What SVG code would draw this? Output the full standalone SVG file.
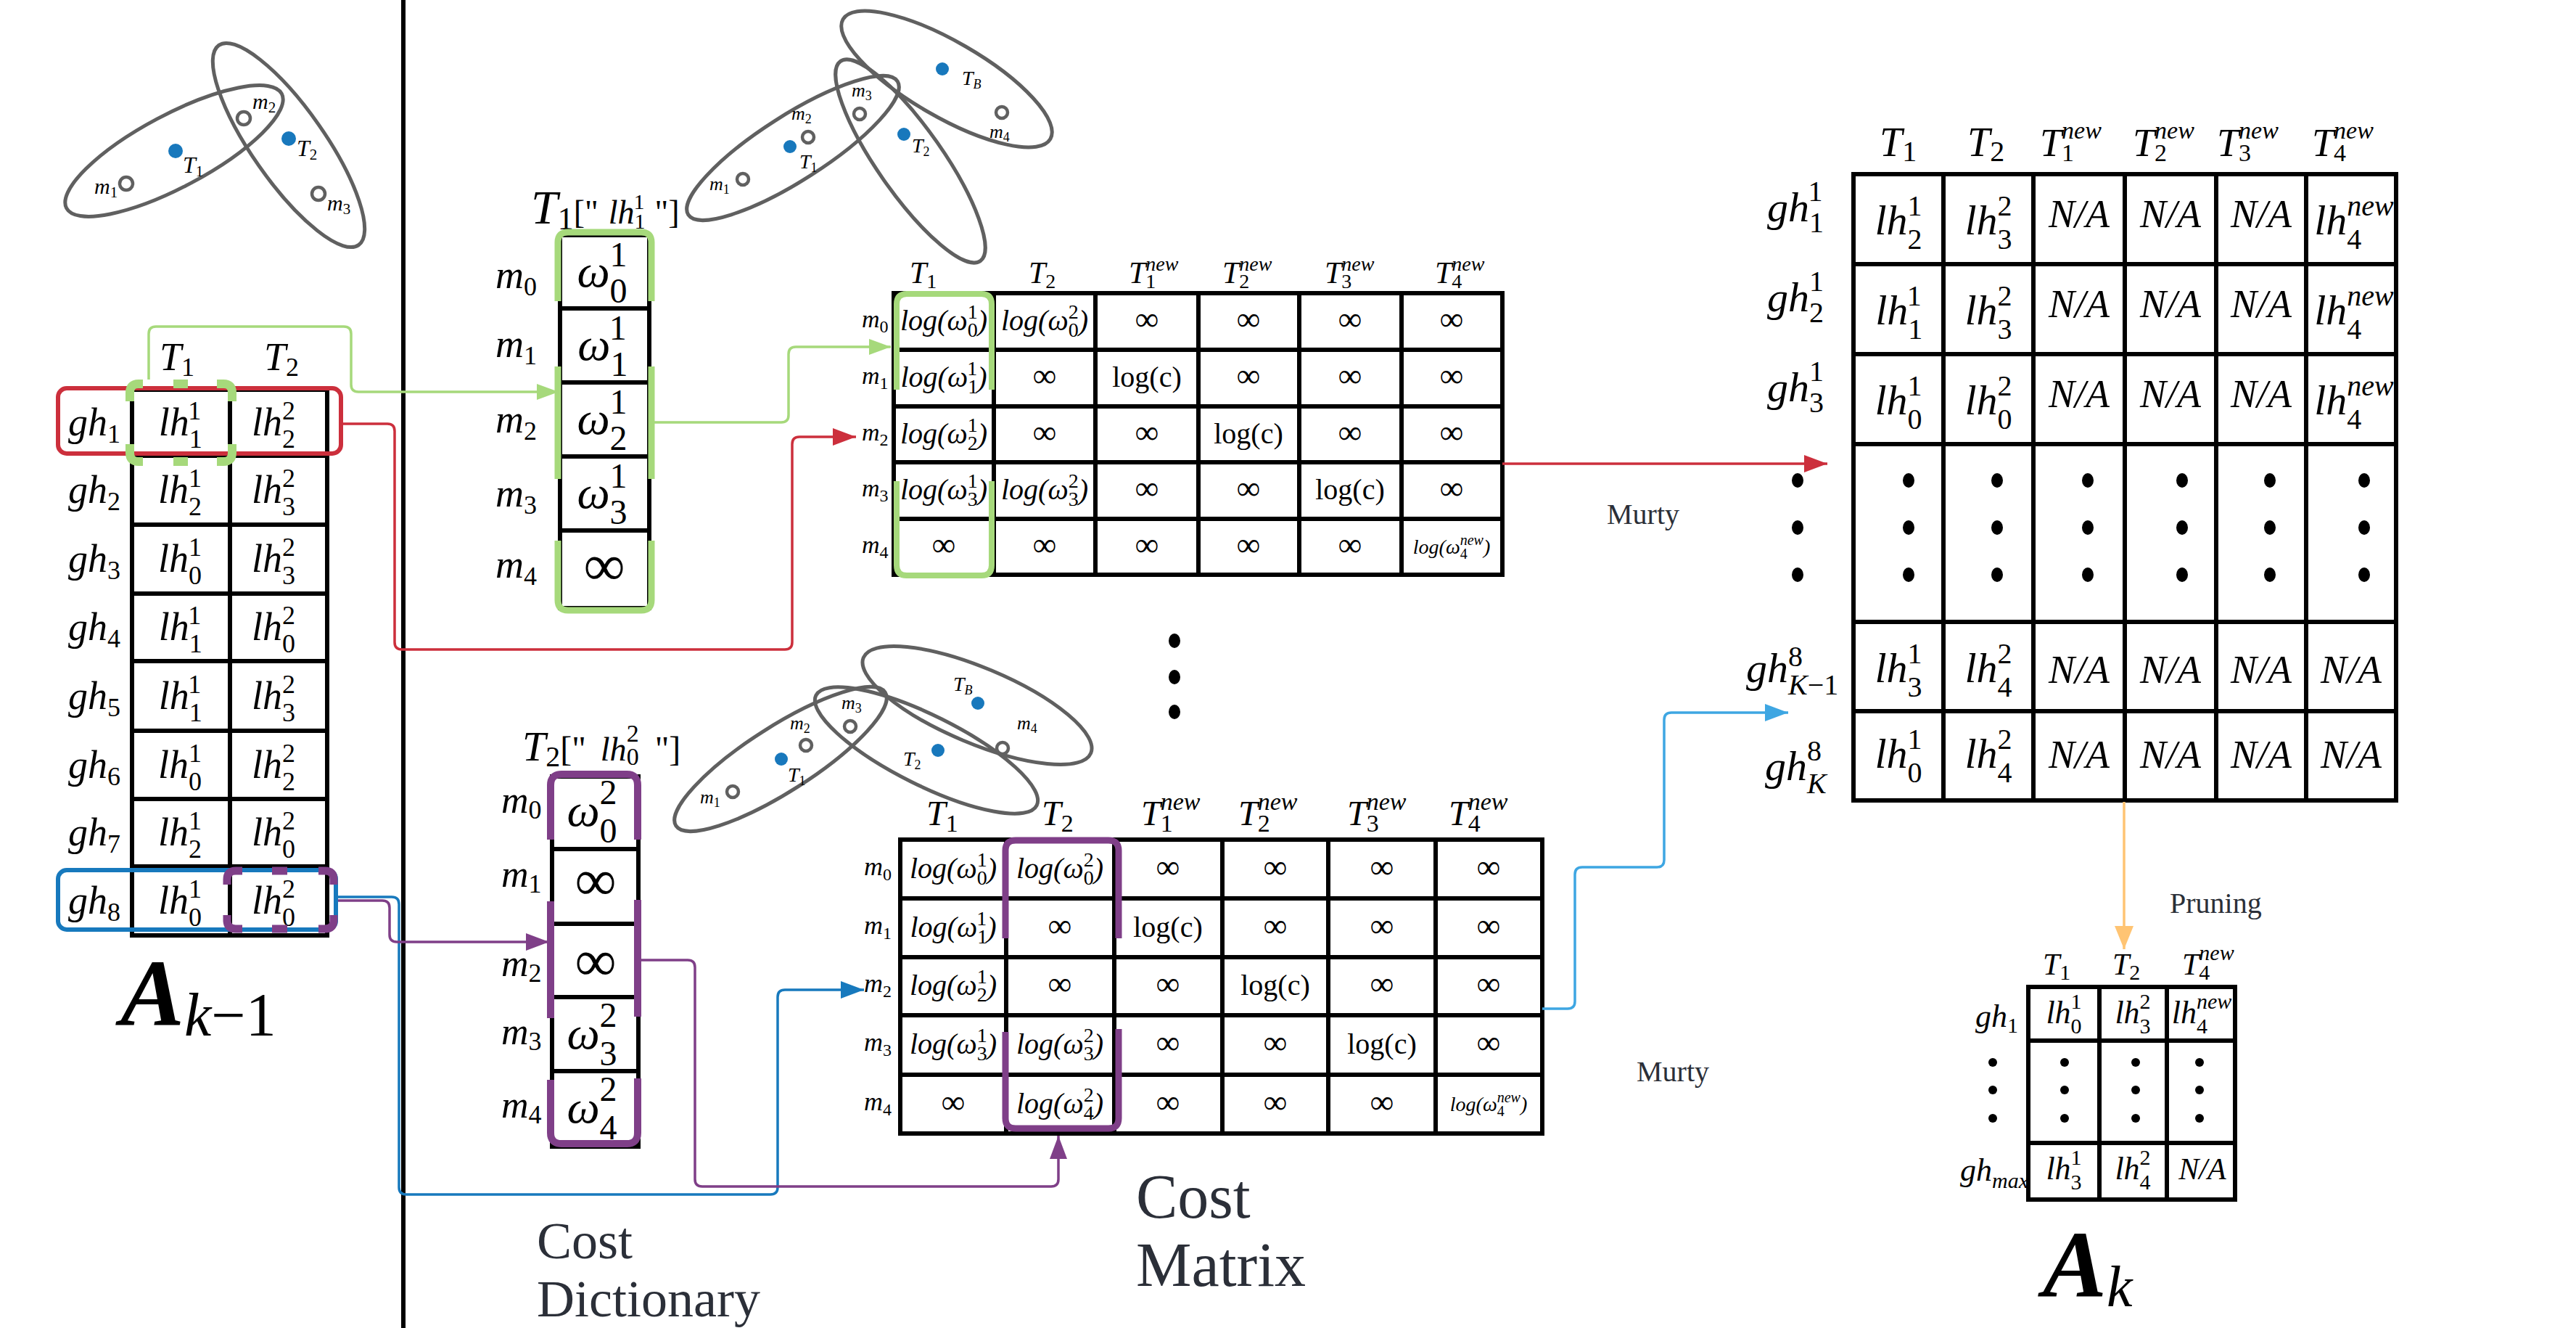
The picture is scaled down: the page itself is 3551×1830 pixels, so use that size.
<svg xmlns="http://www.w3.org/2000/svg" width="3551" height="1830" viewBox="0 0 3551 1830">
<defs>
<style>
.t{font-family:"Liberation Serif","Times New Roman",serif;fill:#000}
.i{font-style:italic}
.c{text-anchor:middle}
.wp{white-space:pre}
.s18{font-size:18px;font-style:normal}
.s20{font-size:20px;font-style:normal}
.s21{font-size:21px;font-style:normal}
.s24{font-size:24px;font-style:normal}
.s28{font-size:28px;font-style:normal}
.s30{font-size:30px;font-style:normal}
.s34{font-size:34px;font-style:normal}
.s36{font-size:36px;font-style:normal}
.s40{font-size:40px;font-style:normal}
.s44{font-size:44px;font-style:normal}
.s48{font-size:48px;font-style:normal}
.it{font-style:italic}
.grid{fill:none;stroke:#000;stroke-width:6;stroke-linecap:square}
.ell{fill:none;stroke:#606060;stroke-width:5}
.ring{fill:#fff;stroke:#606060;stroke-width:4.5}
.dot{fill:#1878bc}
.bd{fill:#000}
.lbl{font-family:"Liberation Serif","Times New Roman",serif;fill:#2b2f38}
.cn{fill:none;stroke-width:3.5;stroke-linejoin:round}
.hg{fill:none;stroke:#a6d97b}
.hp{fill:none;stroke:#7f3f88}
</style>
<marker id="mG" markerUnits="userSpaceOnUse" markerWidth="30" markerHeight="22" refX="30" refY="11" orient="auto"><path d="M0,0 L30,11 L0,22 z" fill="#a6d97b"/></marker>
<marker id="mR" markerUnits="userSpaceOnUse" markerWidth="32" markerHeight="24" refX="32" refY="12" orient="auto"><path d="M0,0 L32,12 L0,24 z" fill="#cc2f3c"/></marker>
<marker id="mP" markerUnits="userSpaceOnUse" markerWidth="32" markerHeight="24" refX="32" refY="12" orient="auto"><path d="M0,0 L32,12 L0,24 z" fill="#7f3f88"/></marker>
<marker id="mB" markerUnits="userSpaceOnUse" markerWidth="32" markerHeight="24" refX="32" refY="12" orient="auto"><path d="M0,0 L32,12 L0,24 z" fill="#1779bd"/></marker>
<marker id="mL" markerUnits="userSpaceOnUse" markerWidth="32" markerHeight="24" refX="32" refY="12" orient="auto"><path d="M0,0 L32,12 L0,24 z" fill="#3ea6e2"/></marker>
<marker id="mO" markerUnits="userSpaceOnUse" markerWidth="32" markerHeight="26" refX="32" refY="13" orient="auto"><path d="M0,0 L32,13 L0,26 z" fill="#ffc473"/></marker>
</defs>
<rect width="3551" height="1830" fill="#fff"/>
<line x1="556" y1="0" x2="556" y2="1830" stroke="#000" stroke-width="6"/>

<g id="scene-1">
<ellipse class="ell" cx="240" cy="208" rx="168" ry="50" transform="rotate(-28 240 208)"/>
<ellipse class="ell" cx="398" cy="200" rx="168" ry="50" transform="rotate(55 398 200)"/>
<circle class="ring" cx="174" cy="253" r="9"/>
<circle class="ring" cx="336" cy="163" r="9"/>
<circle class="ring" cx="439" cy="267" r="9"/>
<circle class="dot" cx="242" cy="208" r="10"/>
<circle class="dot" cx="398" cy="191" r="10"/>
<text class="t i" x="130" y="267" font-size="30">m<tspan class="s21" dy="5">1</tspan></text>
<text class="t i" x="348" y="150" font-size="30">m<tspan class="s21" dy="5">2</tspan></text>
<text class="t i" x="451" y="290" font-size="30">m<tspan class="s21" dy="5">3</tspan></text>
<text class="t i" x="252" y="238" font-size="32">T<tspan class="s21" dy="5">1</tspan></text>
<text class="t i" x="409" y="215" font-size="32">T<tspan class="s21" dy="5">2</tspan></text>
</g>

<g id="scene-2">
<ellipse class="ell" cx="1093" cy="204" rx="171" ry="45" transform="rotate(-32.5 1093 204)"/>
<ellipse class="ell" cx="1255" cy="222" rx="168" ry="45" transform="rotate(55 1255 222)"/>
<ellipse class="ell" cx="1305" cy="109" rx="165" ry="52" transform="rotate(30 1305 109)"/>
<circle class="ring" cx="1024" cy="247" r="8"/>
<circle class="ring" cx="1114" cy="189" r="8"/>
<circle class="ring" cx="1185" cy="157" r="8"/>
<circle class="ring" cx="1381" cy="155" r="8"/>
<circle class="dot" cx="1089" cy="202" r="9"/>
<circle class="dot" cx="1246" cy="185" r="9"/>
<circle class="dot" cx="1299" cy="95" r="9"/>
<text class="t i" x="978" y="262" font-size="26">m<tspan class="s18" dy="5">1</tspan></text>
<text class="t i" x="1091" y="165" font-size="26">m<tspan class="s18" dy="5">2</tspan></text>
<text class="t i" x="1174" y="133" font-size="26">m<tspan class="s18" dy="5">3</tspan></text>
<text class="t i" x="1364" y="190" font-size="26">m<tspan class="s18" dy="5">4</tspan></text>
<text class="t i" x="1102" y="232" font-size="28">T<tspan class="s18" dy="5">1</tspan></text>
<text class="t i" x="1257" y="210" font-size="28">T<tspan class="s18" dy="5">2</tspan></text>
<text class="t i" x="1326" y="117" font-size="28">T<tspan class="s18 it" dy="5">B</tspan></text>
</g>

<g id="scene-3">
<ellipse class="ell" cx="1076" cy="1046" rx="171" ry="45" transform="rotate(-32.5 1076 1046)"/>
<ellipse class="ell" cx="1277" cy="1034" rx="170" ry="48" transform="rotate(26.5 1277 1034)"/>
<ellipse class="ell" cx="1347" cy="972" rx="170" ry="52" transform="rotate(22.8 1347 972)"/>
<circle class="ring" cx="1010" cy="1091" r="8"/>
<circle class="ring" cx="1111" cy="1027" r="8"/>
<circle class="ring" cx="1172" cy="1001" r="8"/>
<circle class="ring" cx="1382" cy="1031" r="8"/>
<circle class="dot" cx="1077" cy="1046" r="9"/>
<circle class="dot" cx="1293" cy="1034" r="9"/>
<circle class="dot" cx="1348" cy="969" r="9"/>
<text class="t i" x="965" y="1107" font-size="26">m<tspan class="s18" dy="5">1</tspan></text>
<text class="t i" x="1089" y="1005" font-size="26">m<tspan class="s18" dy="5">2</tspan></text>
<text class="t i" x="1160" y="977" font-size="26">m<tspan class="s18" dy="5">3</tspan></text>
<text class="t i" x="1402" y="1005" font-size="26">m<tspan class="s18" dy="5">4</tspan></text>
<text class="t i" x="1086" y="1077" font-size="28">T<tspan class="s18" dy="5">1</tspan></text>
<text class="t i" x="1245" y="1055" font-size="28">T<tspan class="s18" dy="5">2</tspan></text>
<text class="t i" x="1314" y="952" font-size="28">T<tspan class="s18 it" dy="5">B</tspan></text>
</g>

<g id="node-A-k-1">
<path class="grid" d="M182,537 V1289 M317,537 V1289 M451,537 V1289 M182,537 H451 M182,628 H451 M182,723 H451 M182,818 H451 M182,911 H451 M182,1007 H451 M182,1101 H451 M182,1194 H451 M182,1289 H451"/>
<text class="t i" x="220" y="510" font-size="54">T<tspan class="s36" dy="8">1</tspan></text>
<text class="t i" x="364" y="510" font-size="54">T<tspan class="s36" dy="8">2</tspan></text>
<text class="t i c" x="130" y="600" font-size="54">gh<tspan class="s36" dy="10">1</tspan></text>
<text class="t i c" x="130" y="693" font-size="54">gh<tspan class="s36" dy="10">2</tspan></text>
<text class="t i c" x="130" y="788" font-size="54">gh<tspan class="s36" dy="10">3</tspan></text>
<text class="t i c" x="130" y="882" font-size="54">gh<tspan class="s36" dy="10">4</tspan></text>
<text class="t i c" x="130" y="977" font-size="54">gh<tspan class="s36" dy="10">5</tspan></text>
<text class="t i c" x="130" y="1072" font-size="54">gh<tspan class="s36" dy="10">6</tspan></text>
<text class="t i c" x="130" y="1165" font-size="54">gh<tspan class="s36" dy="10">7</tspan></text>
<text class="t i c" x="130" y="1259" font-size="54">gh<tspan class="s36" dy="10">8</tspan></text>
<text class="t i c" x="248" y="600" font-size="54">lh<tspan class="s36" dy="17">1</tspan><tspan class="s36" dx="-18" dy="-39">1</tspan></text>
<text class="t i c" x="377" y="600" font-size="54">lh<tspan class="s36" dy="17">2</tspan><tspan class="s36" dx="-18" dy="-39">2</tspan></text>
<text class="t i c" x="248" y="693" font-size="54">lh<tspan class="s36" dy="17">2</tspan><tspan class="s36" dx="-18" dy="-39">1</tspan></text>
<text class="t i c" x="377" y="693" font-size="54">lh<tspan class="s36" dy="17">3</tspan><tspan class="s36" dx="-18" dy="-39">2</tspan></text>
<text class="t i c" x="248" y="788" font-size="54">lh<tspan class="s36" dy="17">0</tspan><tspan class="s36" dx="-18" dy="-39">1</tspan></text>
<text class="t i c" x="377" y="788" font-size="54">lh<tspan class="s36" dy="17">3</tspan><tspan class="s36" dx="-18" dy="-39">2</tspan></text>
<text class="t i c" x="248" y="882" font-size="54">lh<tspan class="s36" dy="17">1</tspan><tspan class="s36" dx="-18" dy="-39">1</tspan></text>
<text class="t i c" x="377" y="882" font-size="54">lh<tspan class="s36" dy="17">0</tspan><tspan class="s36" dx="-18" dy="-39">2</tspan></text>
<text class="t i c" x="248" y="977" font-size="54">lh<tspan class="s36" dy="17">1</tspan><tspan class="s36" dx="-18" dy="-39">1</tspan></text>
<text class="t i c" x="377" y="977" font-size="54">lh<tspan class="s36" dy="17">3</tspan><tspan class="s36" dx="-18" dy="-39">2</tspan></text>
<text class="t i c" x="248" y="1072" font-size="54">lh<tspan class="s36" dy="17">0</tspan><tspan class="s36" dx="-18" dy="-39">1</tspan></text>
<text class="t i c" x="377" y="1072" font-size="54">lh<tspan class="s36" dy="17">2</tspan><tspan class="s36" dx="-18" dy="-39">2</tspan></text>
<text class="t i c" x="248" y="1165" font-size="54">lh<tspan class="s36" dy="17">2</tspan><tspan class="s36" dx="-18" dy="-39">1</tspan></text>
<text class="t i c" x="377" y="1165" font-size="54">lh<tspan class="s36" dy="17">0</tspan><tspan class="s36" dx="-18" dy="-39">2</tspan></text>
<text class="t i c" x="248" y="1259" font-size="54">lh<tspan class="s36" dy="17">0</tspan><tspan class="s36" dx="-18" dy="-39">1</tspan></text>
<text class="t i c" x="377" y="1259" font-size="54">lh<tspan class="s36" dy="17">0</tspan><tspan class="s36" dx="-18" dy="-39">2</tspan></text>
<rect x="80" y="535" width="390" height="90" rx="12" fill="none" stroke="#cc2f3c" stroke-width="6"/>
<rect x="80" y="1199" width="383" height="82" rx="12" fill="none" stroke="#1779bd" stroke-width="6"/>
<path class="hg" stroke-width="12" d="M179,553 V541 Q179,529 191,529 H197 M299,529 H308 Q320,529 320,541 V553 M179,612 V624 Q179,636 191,636 H197 M299,636 H308 Q320,636 320,624 V612 M239,529 H259 M239,636 H259"/>
<path class="hp" stroke-width="11" d="M313,1219 V1212 Q313,1200 325,1200 H334 M439,1200 H448 Q460,1200 460,1212 V1219 M313,1261 V1268 Q313,1280 325,1280 H334 M439,1280 H448 Q460,1280 460,1268 V1261 M375,1200 H396 M375,1280 H396"/>
<text class="t" x="166" y="1413" font-size="132" font-style="italic" font-weight="bold">A<tspan class="it" font-size="84" font-weight="normal" dy="14">k</tspan><tspan font-size="84" font-weight="normal" font-style="normal">−1</tspan></text>
</g>

<g id="node-cost-dict-1">
<text class="t wp" x="732" y="308"><tspan class="it" font-size="66">T</tspan><tspan class="s44" dy="8">1</tspan><tspan font-size="46" dy="-8">["</tspan><tspan class="it" font-size="46" dx="14">lh</tspan><tspan class="s30" dy="7">1</tspan><tspan class="s30" dx="-15" dy="-27">1</tspan><tspan font-size="46" dx="14" dy="20">"]</tspan></text>
<path class="grid" d="M772,324 H895 V838 H772 Z M772,425 H895 M772,527 H895 M772,629 H895 M772,731 H895"/>
<text class="t i" x="683" y="397" font-size="54">m<tspan class="s36" dy="10">0</tspan></text>
<text class="t i" x="683" y="492" font-size="54">m<tspan class="s36" dy="10">1</tspan></text>
<text class="t i" x="683" y="596" font-size="54">m<tspan class="s36" dy="10">2</tspan></text>
<text class="t i" x="683" y="698" font-size="54">m<tspan class="s36" dy="10">3</tspan></text>
<text class="t i" x="683" y="796" font-size="54">m<tspan class="s36" dy="10">4</tspan></text>
<text class="t i c" x="830" y="395" font-size="64">ω<tspan class="s48" dy="22">0</tspan><tspan class="s48" dx="-24" dy="-50">1</tspan></text>
<text class="t i c" x="830" y="496" font-size="64">ω<tspan class="s48" dy="22">1</tspan><tspan class="s48" dx="-24" dy="-50">1</tspan></text>
<text class="t i c" x="830" y="598" font-size="64">ω<tspan class="s48" dy="22">2</tspan><tspan class="s48" dx="-24" dy="-50">1</tspan></text>
<text class="t i c" x="830" y="700" font-size="64">ω<tspan class="s48" dy="22">3</tspan><tspan class="s48" dx="-24" dy="-50">1</tspan></text>
<text class="t c" x="833" y="806" font-size="80">∞</text>
<path class="hg" stroke-width="9" d="M769,415 V334 Q769,320 783,320 H884 Q898,320 898,334 V415 M769,505 V660 M898,505 V660 M769,745 V827 Q769,841 783,841 H884 Q898,841 898,827 V745"/>
</g>

<g id="node-cost-dict-2">
<text class="t wp" x="720" y="1048"><tspan class="it" font-size="58">T</tspan><tspan class="s40" dy="8">2</tspan><tspan font-size="48" dy="-8">["</tspan><tspan class="it" font-size="46" dx="20">lh</tspan><tspan class="s34" dy="6">0</tspan><tspan class="s34" dx="-17" dy="-32">2</tspan><tspan font-size="48" dx="22" dy="26">"]</tspan></text>
<path class="grid" d="M761,1070 H880 V1580 H761 Z M761,1170 H880 M761,1273 H880 M761,1374 H880 M761,1476 H880"/>
<text class="t i" x="691" y="1120" font-size="52">m<tspan class="s36" dy="8">0</tspan></text>
<text class="t i" x="691" y="1222" font-size="52">m<tspan class="s36" dy="8">1</tspan></text>
<text class="t i" x="691" y="1345" font-size="52">m<tspan class="s36" dy="8">2</tspan></text>
<text class="t i" x="691" y="1439" font-size="52">m<tspan class="s36" dy="8">3</tspan></text>
<text class="t i" x="691" y="1540" font-size="52">m<tspan class="s36" dy="8">4</tspan></text>
<text class="t i c" x="816" y="1138" font-size="64">ω<tspan class="s48" dy="23">0</tspan><tspan class="s48" dx="-24" dy="-53">2</tspan></text>
<text class="t c" x="821" y="1240" font-size="80">∞</text>
<text class="t c" x="821" y="1351" font-size="80">∞</text>
<text class="t i c" x="816" y="1445" font-size="64">ω<tspan class="s48" dy="23">3</tspan><tspan class="s48" dx="-24" dy="-53">2</tspan></text>
<text class="t i c" x="816" y="1547" font-size="64">ω<tspan class="s48" dy="23">4</tspan><tspan class="s48" dx="-24" dy="-53">2</tspan></text>
<path class="hp" stroke-width="10" d="M759,1157 V1082 Q759,1067 774,1067 H864 Q879,1067 879,1082 V1157 M759,1242 V1403 M879,1240 V1401 M759,1488 V1561 Q759,1576 774,1576 H864 Q879,1576 879,1561 V1486"/>
</g>

<g id="node-cost-matrix-1">
<path class="grid" d="M1232,404 H2071 M1232,482 H2071 M1232,560 H2071 M1232,637 H2071 M1232,715 H2071 M1232,792 H2071 M1232,404 V792 M1370,404 V792 M1510,404 V792 M1652,404 V792 M1791,404 V792 M1932,404 V792 M2071,404 V792"/>
<text class="t i" x="1254" y="390" font-size="42">T<tspan class="s28" dy="7">1</tspan></text>
<text class="t i" x="1418" y="390" font-size="42">T<tspan class="s28" dy="7">2</tspan></text>
<text class="t i" x="1556" y="390" font-size="42">T<tspan class="s28" dy="7">1</tspan><tspan class="s28 it" dx="-14" dy="-24">new</tspan></text>
<text class="t i" x="1685" y="390" font-size="42">T<tspan class="s28" dy="7">2</tspan><tspan class="s28 it" dx="-14" dy="-24">new</tspan></text>
<text class="t i" x="1826" y="390" font-size="42">T<tspan class="s28" dy="7">3</tspan><tspan class="s28 it" dx="-14" dy="-24">new</tspan></text>
<text class="t i" x="1978" y="390" font-size="42">T<tspan class="s28" dy="7">4</tspan><tspan class="s28 it" dx="-14" dy="-24">new</tspan></text>
<text class="t i" x="1188" y="451" font-size="34">m<tspan class="s24" dy="7">0</tspan></text>
<text class="t i" x="1188" y="529" font-size="34">m<tspan class="s24" dy="7">1</tspan></text>
<text class="t i" x="1188" y="607" font-size="34">m<tspan class="s24" dy="7">2</tspan></text>
<text class="t i" x="1188" y="684" font-size="34">m<tspan class="s24" dy="7">3</tspan></text>
<text class="t i" x="1188" y="762" font-size="34">m<tspan class="s24" dy="7">4</tspan></text>
<text class="t i c" x="1301" y="455" font-size="40">log(ω<tspan class="s28" dy="9">0</tspan><tspan class="s28" dx="-14" dy="-25">1</tspan><tspan dy="16">)</tspan></text>
<text class="t i c" x="1440" y="455" font-size="40">log(ω<tspan class="s28" dy="9">0</tspan><tspan class="s28" dx="-14" dy="-25">2</tspan><tspan dy="16">)</tspan></text>
<text class="t c" x="1581" y="455" font-size="46">∞</text>
<text class="t c" x="1721" y="455" font-size="46">∞</text>
<text class="t c" x="1861" y="455" font-size="46">∞</text>
<text class="t c" x="2001" y="455" font-size="46">∞</text>
<text class="t i c" x="1301" y="533" font-size="40">log(ω<tspan class="s28" dy="9">1</tspan><tspan class="s28" dx="-14" dy="-25">1</tspan><tspan dy="16">)</tspan></text>
<text class="t c" x="1440" y="533" font-size="46">∞</text>
<text class="t c" x="1581" y="533" font-size="40">log(c)</text>
<text class="t c" x="1721" y="533" font-size="46">∞</text>
<text class="t c" x="1861" y="533" font-size="46">∞</text>
<text class="t c" x="2001" y="533" font-size="46">∞</text>
<text class="t i c" x="1301" y="611" font-size="40">log(ω<tspan class="s28" dy="9">2</tspan><tspan class="s28" dx="-14" dy="-25">1</tspan><tspan dy="16">)</tspan></text>
<text class="t c" x="1440" y="611" font-size="46">∞</text>
<text class="t c" x="1581" y="611" font-size="46">∞</text>
<text class="t c" x="1721" y="611" font-size="40">log(c)</text>
<text class="t c" x="1861" y="611" font-size="46">∞</text>
<text class="t c" x="2001" y="611" font-size="46">∞</text>
<text class="t i c" x="1301" y="688" font-size="40">log(ω<tspan class="s28" dy="9">3</tspan><tspan class="s28" dx="-14" dy="-25">1</tspan><tspan dy="16">)</tspan></text>
<text class="t i c" x="1440" y="688" font-size="40">log(ω<tspan class="s28" dy="9">3</tspan><tspan class="s28" dx="-14" dy="-25">2</tspan><tspan dy="16">)</tspan></text>
<text class="t c" x="1581" y="688" font-size="46">∞</text>
<text class="t c" x="1721" y="688" font-size="46">∞</text>
<text class="t c" x="1861" y="688" font-size="40">log(c)</text>
<text class="t c" x="2001" y="688" font-size="46">∞</text>
<text class="t c" x="1301" y="766" font-size="46">∞</text>
<text class="t c" x="1440" y="766" font-size="46">∞</text>
<text class="t c" x="1581" y="766" font-size="46">∞</text>
<text class="t c" x="1721" y="766" font-size="46">∞</text>
<text class="t c" x="1861" y="766" font-size="46">∞</text>
<text class="t i c" x="2001" y="763" font-size="28">log(ω<tspan class="s20" dy="7">4</tspan><tspan class="s20 it" dx="-10" dy="-19">new</tspan><tspan dy="12">)</tspan></text>
<path class="hg" stroke-width="8" d="M1236,537 V419 Q1236,405 1250,405 H1353 Q1367,405 1367,419 V537 M1236,663 V779 Q1236,793 1250,793 H1353 Q1367,793 1367,779 V663"/>
</g>

<g id="node-cost-matrix-2">
<path class="grid" d="M1241,1157 H2126 M1241,1238 H2126 M1241,1319 H2126 M1241,1399 H2126 M1241,1481 H2126 M1241,1562 H2126 M1241,1157 V1562 M1387,1157 V1562 M1536,1157 V1562 M1685,1157 V1562 M1831,1157 V1562 M1979,1157 V1562 M2126,1157 V1562"/>
<text class="t i" x="1277" y="1137" font-size="48">T<tspan class="s34" dy="9">1</tspan></text>
<text class="t i" x="1436" y="1137" font-size="48">T<tspan class="s34" dy="9">2</tspan></text>
<text class="t i" x="1573" y="1137" font-size="48">T<tspan class="s34" dy="9">1</tspan><tspan class="s34 it" dx="-17" dy="-30">new</tspan></text>
<text class="t i" x="1707" y="1137" font-size="48">T<tspan class="s34" dy="9">2</tspan><tspan class="s34 it" dx="-17" dy="-30">new</tspan></text>
<text class="t i" x="1857" y="1137" font-size="48">T<tspan class="s34" dy="9">3</tspan><tspan class="s34 it" dx="-17" dy="-30">new</tspan></text>
<text class="t i" x="1997" y="1137" font-size="48">T<tspan class="s34" dy="9">4</tspan><tspan class="s34 it" dx="-17" dy="-30">new</tspan></text>
<text class="t i" x="1191" y="1206" font-size="36">m<tspan class="s24" dy="7">0</tspan></text>
<text class="t i" x="1191" y="1287" font-size="36">m<tspan class="s24" dy="7">1</tspan></text>
<text class="t i" x="1191" y="1367" font-size="36">m<tspan class="s24" dy="7">2</tspan></text>
<text class="t i" x="1191" y="1448" font-size="36">m<tspan class="s24" dy="7">3</tspan></text>
<text class="t i" x="1191" y="1530" font-size="36">m<tspan class="s24" dy="7">4</tspan></text>
<text class="t i c" x="1314" y="1210" font-size="40">log(ω<tspan class="s28" dy="9">0</tspan><tspan class="s28" dx="-14" dy="-25">1</tspan><tspan dy="16">)</tspan></text>
<text class="t i c" x="1461" y="1210" font-size="40">log(ω<tspan class="s28" dy="9">0</tspan><tspan class="s28" dx="-14" dy="-25">2</tspan><tspan dy="16">)</tspan></text>
<text class="t c" x="1610" y="1210" font-size="46">∞</text>
<text class="t c" x="1758" y="1210" font-size="46">∞</text>
<text class="t c" x="1905" y="1210" font-size="46">∞</text>
<text class="t c" x="2052" y="1210" font-size="46">∞</text>
<text class="t i c" x="1314" y="1291" font-size="40">log(ω<tspan class="s28" dy="9">1</tspan><tspan class="s28" dx="-14" dy="-25">1</tspan><tspan dy="16">)</tspan></text>
<text class="t c" x="1461" y="1291" font-size="46">∞</text>
<text class="t c" x="1610" y="1291" font-size="40">log(c)</text>
<text class="t c" x="1758" y="1291" font-size="46">∞</text>
<text class="t c" x="1905" y="1291" font-size="46">∞</text>
<text class="t c" x="2052" y="1291" font-size="46">∞</text>
<text class="t i c" x="1314" y="1371" font-size="40">log(ω<tspan class="s28" dy="9">2</tspan><tspan class="s28" dx="-14" dy="-25">1</tspan><tspan dy="16">)</tspan></text>
<text class="t c" x="1461" y="1371" font-size="46">∞</text>
<text class="t c" x="1610" y="1371" font-size="46">∞</text>
<text class="t c" x="1758" y="1371" font-size="40">log(c)</text>
<text class="t c" x="1905" y="1371" font-size="46">∞</text>
<text class="t c" x="2052" y="1371" font-size="46">∞</text>
<text class="t i c" x="1314" y="1452" font-size="40">log(ω<tspan class="s28" dy="9">3</tspan><tspan class="s28" dx="-14" dy="-25">1</tspan><tspan dy="16">)</tspan></text>
<text class="t i c" x="1461" y="1452" font-size="40">log(ω<tspan class="s28" dy="9">3</tspan><tspan class="s28" dx="-14" dy="-25">2</tspan><tspan dy="16">)</tspan></text>
<text class="t c" x="1610" y="1452" font-size="46">∞</text>
<text class="t c" x="1758" y="1452" font-size="46">∞</text>
<text class="t c" x="1905" y="1452" font-size="40">log(c)</text>
<text class="t c" x="2052" y="1452" font-size="46">∞</text>
<text class="t c" x="1314" y="1534" font-size="46">∞</text>
<text class="t i c" x="1461" y="1534" font-size="40">log(ω<tspan class="s28" dy="9">4</tspan><tspan class="s28" dx="-14" dy="-25">2</tspan><tspan dy="16">)</tspan></text>
<text class="t c" x="1610" y="1534" font-size="46">∞</text>
<text class="t c" x="1758" y="1534" font-size="46">∞</text>
<text class="t c" x="1905" y="1534" font-size="46">∞</text>
<text class="t i c" x="2052" y="1531" font-size="28">log(ω<tspan class="s20" dy="7">4</tspan><tspan class="s20 it" dx="-10" dy="-19">new</tspan><tspan dy="12">)</tspan></text>
<path class="hp" stroke-width="9" d="M1386,1293 V1172 Q1386,1158 1400,1158 H1528 Q1542,1158 1542,1172 V1293 M1386,1422 V1541 Q1386,1555 1400,1555 H1528 Q1542,1555 1542,1541 V1418"/>
</g>

<g id="ellipsis-mid">
<ellipse class="bd" cx="1619" cy="883" rx="8" ry="10"/>
<ellipse class="bd" cx="1619" cy="933" rx="8" ry="10"/>
<ellipse class="bd" cx="1619" cy="981" rx="8" ry="10"/>
</g>

<g id="node-A-k-candidates">
<path class="grid" d="M2555,240 H3303 M2555,364 H3303 M2555,488 H3303 M2555,612 H3303 M2555,857 H3303 M2555,980 H3303 M2555,1103 H3303 M2555,240 V1103 M2679,240 V1103 M2803,240 V1103 M2929,240 V1103 M3055,240 V1103 M3179,240 V1103 M3303,240 V1103"/>
<text class="t i" x="2591" y="215" font-size="56">T<tspan class="s40" dy="7">1</tspan></text>
<text class="t i" x="2712" y="215" font-size="56">T<tspan class="s40" dy="7">2</tspan></text>
<text class="t i" x="2812" y="215" font-size="54">T<tspan class="s34" dy="7">1</tspan><tspan class="s34 it" dx="-17" dy="-31">new</tspan></text>
<text class="t i" x="2940" y="215" font-size="54">T<tspan class="s34" dy="7">2</tspan><tspan class="s34 it" dx="-17" dy="-31">new</tspan></text>
<text class="t i" x="3056" y="215" font-size="54">T<tspan class="s34" dy="7">3</tspan><tspan class="s34 it" dx="-17" dy="-31">new</tspan></text>
<text class="t i" x="3187" y="215" font-size="54">T<tspan class="s34" dy="7">4</tspan><tspan class="s34 it" dx="-17" dy="-31">new</tspan></text>
<text class="t i" x="2436" y="305" font-size="58">gh<tspan class="s40" dy="15">1</tspan><tspan class="s40" dx="-20" dy="-43">1</tspan></text>
<text class="t i" x="2436" y="429" font-size="58">gh<tspan class="s40" dy="15">2</tspan><tspan class="s40" dx="-20" dy="-43">1</tspan></text>
<text class="t i" x="2436" y="553" font-size="58">gh<tspan class="s40" dy="15">3</tspan><tspan class="s40" dx="-20" dy="-43">1</tspan></text>
<text class="t i" x="2407" y="940" font-size="58">gh<tspan class="s40" dy="-22">8</tspan><tspan class="s40 it" dx="-20" dy="39">K</tspan><tspan class="s40">−1</tspan></text>
<text class="t i" x="2433" y="1075" font-size="58">gh<tspan class="s40" dy="-27">8</tspan><tspan class="s40 it" dx="-20" dy="45">K</tspan></text>
<text class="t i c" x="2617" y="323" font-size="58">lh<tspan class="s40" dy="20">2</tspan><tspan class="s40" dx="-20" dy="-46">1</tspan></text>
<text class="t i c" x="2741" y="323" font-size="58">lh<tspan class="s40" dy="20">3</tspan><tspan class="s40" dx="-20" dy="-46">2</tspan></text>
<text class="t i c" x="2866" y="313" font-size="54">N/A</text>
<text class="t i c" x="2992" y="313" font-size="54">N/A</text>
<text class="t i c" x="3117" y="313" font-size="54">N/A</text>
<text class="t i c" x="3245" y="323" font-size="58">lh<tspan class="s40" dy="20">4</tspan><tspan class="s40 it" dx="-20" dy="-46">new</tspan></text>
<text class="t i c" x="2617" y="447" font-size="58">lh<tspan class="s40" dy="20">1</tspan><tspan class="s40" dx="-20" dy="-46">1</tspan></text>
<text class="t i c" x="2741" y="447" font-size="58">lh<tspan class="s40" dy="20">3</tspan><tspan class="s40" dx="-20" dy="-46">2</tspan></text>
<text class="t i c" x="2866" y="437" font-size="54">N/A</text>
<text class="t i c" x="2992" y="437" font-size="54">N/A</text>
<text class="t i c" x="3117" y="437" font-size="54">N/A</text>
<text class="t i c" x="3245" y="447" font-size="58">lh<tspan class="s40" dy="20">4</tspan><tspan class="s40 it" dx="-20" dy="-46">new</tspan></text>
<text class="t i c" x="2617" y="571" font-size="58">lh<tspan class="s40" dy="20">0</tspan><tspan class="s40" dx="-20" dy="-46">1</tspan></text>
<text class="t i c" x="2741" y="571" font-size="58">lh<tspan class="s40" dy="20">0</tspan><tspan class="s40" dx="-20" dy="-46">2</tspan></text>
<text class="t i c" x="2866" y="561" font-size="54">N/A</text>
<text class="t i c" x="2992" y="561" font-size="54">N/A</text>
<text class="t i c" x="3117" y="561" font-size="54">N/A</text>
<text class="t i c" x="3245" y="571" font-size="58">lh<tspan class="s40" dy="20">4</tspan><tspan class="s40 it" dx="-20" dy="-46">new</tspan></text>
<text class="t i c" x="2617" y="940" font-size="58">lh<tspan class="s40" dy="20">3</tspan><tspan class="s40" dx="-20" dy="-46">1</tspan></text>
<text class="t i c" x="2741" y="940" font-size="58">lh<tspan class="s40" dy="20">4</tspan><tspan class="s40" dx="-20" dy="-46">2</tspan></text>
<text class="t i c" x="2866" y="941" font-size="54">N/A</text>
<text class="t i c" x="2992" y="941" font-size="54">N/A</text>
<text class="t i c" x="3117" y="941" font-size="54">N/A</text>
<text class="t i c" x="3241" y="941" font-size="54">N/A</text>
<text class="t i c" x="2617" y="1058" font-size="58">lh<tspan class="s40" dy="20">0</tspan><tspan class="s40" dx="-20" dy="-46">1</tspan></text>
<text class="t i c" x="2741" y="1058" font-size="58">lh<tspan class="s40" dy="20">4</tspan><tspan class="s40" dx="-20" dy="-46">2</tspan></text>
<text class="t i c" x="2866" y="1058" font-size="54">N/A</text>
<text class="t i c" x="2992" y="1058" font-size="54">N/A</text>
<text class="t i c" x="3117" y="1058" font-size="54">N/A</text>
<text class="t i c" x="3241" y="1058" font-size="54">N/A</text>
<g class="bd">
<ellipse cx="2478" cy="662" rx="8" ry="10"/><ellipse cx="2478" cy="727" rx="8" ry="10"/><ellipse cx="2478" cy="792" rx="8" ry="10"/>
<ellipse cx="2631" cy="662" rx="8" ry="10"/><ellipse cx="2631" cy="727" rx="8" ry="10"/><ellipse cx="2631" cy="792" rx="8" ry="10"/>
<ellipse cx="2753" cy="662" rx="8" ry="10"/><ellipse cx="2753" cy="727" rx="8" ry="10"/><ellipse cx="2753" cy="792" rx="8" ry="10"/>
<ellipse cx="2878" cy="662" rx="8" ry="10"/><ellipse cx="2878" cy="727" rx="8" ry="10"/><ellipse cx="2878" cy="792" rx="8" ry="10"/>
<ellipse cx="3008" cy="662" rx="8" ry="10"/><ellipse cx="3008" cy="727" rx="8" ry="10"/><ellipse cx="3008" cy="792" rx="8" ry="10"/>
<ellipse cx="3129" cy="662" rx="8" ry="10"/><ellipse cx="3129" cy="727" rx="8" ry="10"/><ellipse cx="3129" cy="792" rx="8" ry="10"/>
<ellipse cx="3259" cy="662" rx="8" ry="10"/><ellipse cx="3259" cy="727" rx="8" ry="10"/><ellipse cx="3259" cy="792" rx="8" ry="10"/>
</g>
</g>

<g id="node-A-k">
<path class="grid" stroke-width="5" d="M2796,1360 H3081 M2796,1434 H3081 M2796,1575 H3081 M2796,1653 H3081 M2796,1360 V1653 M2894,1360 V1653 M2987,1360 V1653 M3081,1360 V1653"/>
<text class="t i" x="2816" y="1343" font-size="42">T<tspan class="s30" dy="7">1</tspan></text>
<text class="t i" x="2912" y="1343" font-size="42">T<tspan class="s30" dy="7">2</tspan></text>
<text class="t i" x="3008" y="1343" font-size="42">T<tspan class="s30" dy="7">4</tspan><tspan class="s30 it" dx="-15" dy="-27">new</tspan></text>
<text class="t i" x="2723" y="1415" font-size="44">gh<tspan class="s30" dy="8">1</tspan></text>
<text class="t i" x="2702" y="1627" font-size="44">gh<tspan class="s30 it" dy="10">max</tspan></text>
<text class="t i c" x="2845" y="1410" font-size="44">lh<tspan class="s30" dy="14">0</tspan><tspan class="s30" dx="-15" dy="-34">1</tspan></text>
<text class="t i c" x="2940" y="1410" font-size="44">lh<tspan class="s30" dy="14">3</tspan><tspan class="s30" dx="-15" dy="-34">2</tspan></text>
<text class="t i c" x="3035" y="1410" font-size="44">lh<tspan class="s30" dy="14">4</tspan><tspan class="s30 it" dx="-15" dy="-34">new</tspan></text>
<text class="t i c" x="2845" y="1625" font-size="44">lh<tspan class="s30" dy="14">3</tspan><tspan class="s30" dx="-15" dy="-34">1</tspan></text>
<text class="t i c" x="2940" y="1625" font-size="44">lh<tspan class="s30" dy="14">4</tspan><tspan class="s30" dx="-15" dy="-34">2</tspan></text>
<text class="t i c" x="3036" y="1625" font-size="42">N/A</text>
<g class="bd">
<circle cx="2747" cy="1464" r="6"/><circle cx="2747" cy="1502" r="6"/><circle cx="2747" cy="1541" r="6"/>
<circle cx="2846" cy="1464" r="6"/><circle cx="2846" cy="1502" r="6"/><circle cx="2846" cy="1541" r="6"/>
<circle cx="2944" cy="1464" r="6"/><circle cx="2944" cy="1502" r="6"/><circle cx="2944" cy="1541" r="6"/>
<circle cx="3032" cy="1464" r="6"/><circle cx="3032" cy="1502" r="6"/><circle cx="3032" cy="1541" r="6"/>
</g>
<text class="t" x="2816" y="1787" font-size="132" font-style="italic" font-weight="bold">A<tspan class="it" font-size="80" font-weight="normal" dy="13">k</tspan></text>
</g>

<g id="labels">
<text class="lbl" x="740" y="1734" font-size="72">Cost</text>
<text class="lbl" x="740" y="1814" font-size="72">Dictionary</text>
<text class="lbl" x="1566" y="1678" font-size="86">Cost</text>
<text class="lbl" x="1566" y="1772" font-size="86">Matrix</text>
<text class="lbl" x="2215" y="722" font-size="40" fill="#3a3a3a">Murty</text>
<text class="lbl" x="2256" y="1490" font-size="40" fill="#3a3a3a">Murty</text>
<text class="lbl" x="2991" y="1258" font-size="40" fill="#3a3a3a">Pruning</text>
</g>

<g id="connectors">
<path class="cn" stroke="#a6d97b" stroke-width="3.5" marker-end="url(#mG)" d="M205,523 V460 Q205,450 215,450 H474 Q484,450 484,460 V530 Q484,540 494,540 H770"/>
<path class="cn" stroke="#a6d97b" stroke-width="3.5" marker-end="url(#mG)" d="M898,582 H1077 Q1087,582 1087,572 V488 Q1087,478 1097,478 H1228"/>
<path class="cn" stroke="#cc2f3c" marker-end="url(#mR)" d="M473,584 H534 Q544,584 544,594 V885 Q544,895 554,895 H1082 Q1092,895 1092,885 V612 Q1092,602 1102,602 H1180"/>
<path class="cn" stroke="#cc2f3c" marker-end="url(#mR)" d="M2071,639 H2519"/>
<path class="cn" stroke="#1779bd" stroke-width="4" marker-end="url(#mB)" d="M466,1236 H540 Q550,1236 550,1246 V1636 Q550,1646 560,1646 H1062 Q1072,1646 1072,1636 V1374 Q1072,1364 1082,1364 H1191"/>
<path class="cn" stroke="#7f3f88" marker-end="url(#mP)" d="M466,1241 H527 Q537,1241 537,1251 V1288 Q537,1298 547,1298 H757"/>
<path class="cn" stroke="#7f3f88" marker-end="url(#mP)" d="M883,1323 H948 Q958,1323 958,1333 V1625 Q958,1635 968,1635 H1449 Q1459,1635 1459,1625 V1565"/>
<path class="cn" stroke="#3ea6e2" stroke-width="4" marker-end="url(#mL)" d="M2126,1390 H2161 Q2171,1390 2171,1380 V1205 Q2171,1195 2181,1195 H2284 Q2294,1195 2294,1185 V992 Q2294,982 2304,982 H2465"/>
<path class="cn" stroke="#ffc473" stroke-width="4" marker-end="url(#mO)" d="M2928,1105 V1308"/>
</g>
</svg>
